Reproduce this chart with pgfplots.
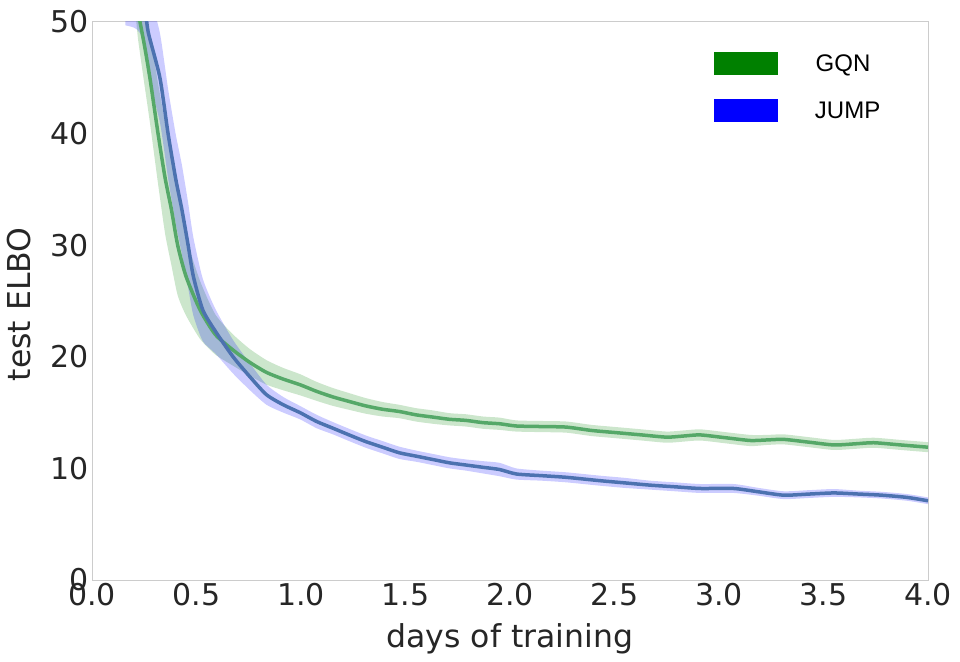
\documentclass[border=0pt]{standalone}
\usepackage{fontspec}
\setmainfont{DejaVu Sans}
\newfontfamily\legendfont{Liberation Sans}
\usepackage{pgfplots}
\pgfplotsset{compat=1.18}
\usepackage{pgfplotstable}
\usepgfplotslibrary{fillbetween}
\definecolor{gline}{RGB}{85,168,104}
\definecolor{bline}{RGB}{76,114,176}
\definecolor{gfill}{RGB}{0,128,0}
\definecolor{bfill}{RGB}{0,0,255}
\definecolor{txt}{RGB}{38,38,38}
\definecolor{frame}{RGB}{204,204,204}
\pgfplotstableread{
x y e
0.21 52.5 2
0.22 51 2.5
0.25 48 3.5
0.277 45 4
0.316 40 4.5
0.35 36 5
0.38 33.2 5
0.41 30 4.5
0.45 27.2 3.5
0.517 24.2 2.6
0.59 22 1.8
0.675 20.6 1.4
0.755 19.5 1.2
0.835 18.6 1.1
0.915 18.0 1.0
0.995 17.5 0.95
1.075 16.9 0.85
1.153 16.4 0.8
1.23 16.0 0.75
1.31 15.6 0.7
1.39 15.3 0.65
1.47 15.1 0.6
1.55 14.8 0.6
1.63 14.6 0.6
1.71 14.4 0.55
1.79 14.3 0.55
1.87 14.1 0.55
1.95 14.0 0.55
2.03 13.8 0.5
2.15 13.75 0.5
2.27 13.7 0.5
2.39 13.4 0.5
2.51 13.2 0.5
2.63 13.0 0.5
2.75 12.8 0.5
2.83 12.9 0.5
2.91 13.0 0.5
3.03 12.75 0.5
3.15 12.5 0.5
3.23 12.55 0.45
3.31 12.6 0.45
3.43 12.35 0.45
3.55 12.1 0.45
3.65 12.2 0.45
3.74 12.3 0.45
3.87 12.1 0.45
4.00 11.9 0.45
}\gqn
\pgfplotstableread{
x y e
0.16 50.4 0.7
0.20 51.5 2
0.23 53 4
0.255 51 4
0.27 49 4
0.325 45 4
0.364 40 4
0.40 36 4
0.43 33.2 4
0.46 30 3.8
0.485 27.2 3.5
0.53 24.2 2.8
0.59 22.3 2
0.675 20 1.5
0.756 18.2 1.2
0.835 16.6 0.9
0.915 15.7 0.7
0.995 15 0.6
1.075 14.2 0.6
1.153 13.6 0.55
1.23 13 0.55
1.31 12.4 0.55
1.39 11.9 0.55
1.47 11.4 0.55
1.55 11.1 0.5
1.63 10.8 0.5
1.71 10.5 0.5
1.79 10.3 0.5
1.87 10.1 0.55
1.95 9.9 0.6
2.03 9.5 0.5
2.15 9.35 0.45
2.27 9.2 0.45
2.43 8.9 0.45
2.55 8.7 0.45
2.67 8.5 0.4
2.79 8.35 0.4
2.91 8.2 0.4
3.07 8.2 0.4
3.19 7.9 0.35
3.31 7.6 0.35
3.43 7.7 0.35
3.55 7.8 0.35
3.67 7.7 0.3
3.78 7.6 0.3
3.90 7.4 0.3
4.00 7.1 0.3
}\jump
\begin{document}
\begin{tikzpicture}
\begin{axis}[
  at={(0,0)}, anchor=south west,
  scale only axis, width=836pt, height=558pt,
  xmin=0, xmax=4, ymin=0, ymax=50,
  xtick={0,0.5,1,1.5,2,2.5,3,3.5,4},
  ytick={0,10,20,30,40,50},
  major tick length=0pt,
  axis line style={draw=frame, line width=1pt},
  /pgf/number format/assume math mode=true,
  ticklabel style={font=\fontsize{30}{36}\selectfont, text=txt},
  xticklabel style={/pgf/number format/.cd, fixed, fixed zerofill, precision=1},
  xlabel={days of training},
  ylabel={test ELBO},
  xlabel style={at={(axis description cs:0.5,-0.07706)}, anchor=north, inner sep=0pt, font=\fontsize{31.5}{36}\selectfont, text=txt},
  ylabel style={at={(axis description cs:-0.10167,0.494)}, anchor=north, inner sep=0pt, font=\fontsize{31.5}{36}\selectfont, text=txt},
  legend image code/.code={\fill[#1] (0pt,-11.5pt) rectangle (64pt,11.5pt);},
  legend style={draw=none, fill=none, inner sep=0pt, outer sep=0pt,
    at={(axis description cs:0.7440,0.94624)}, anchor=north west,
    row sep=24pt, column sep=33pt,
    cells={anchor=center},
    nodes={font=\legendfont\fontsize{24}{28}\selectfont, text width=56pt, align=center, text height=17pt, text depth=0pt, inner xsep=4pt, inner ysep=0pt, text=black}},
]
\addplot[draw=none, smooth, tension=0.4, name path=gu, forget plot] table[x=x, y expr=\thisrow{y}+\thisrow{e}]{\gqn};
\addplot[draw=none, smooth, tension=0.4, name path=gl, forget plot] table[x=x, y expr=\thisrow{y}-\thisrow{e}]{\gqn};
\addplot[fill=gfill, fill opacity=0.2, draw=none, forget plot] fill between[of=gu and gl];
\addplot[gline, line width=3.5pt, line join=round, smooth, tension=0.4, forget plot] table[x=x, y=y]{\gqn};
\addplot[draw=none, smooth, tension=0.4, name path=bu, forget plot] table[x=x, y expr=\thisrow{y}+\thisrow{e}]{\jump};
\addplot[draw=none, smooth, tension=0.4, name path=bl, forget plot] table[x=x, y expr=\thisrow{y}-\thisrow{e}]{\jump};
\addplot[fill=bfill, fill opacity=0.2, draw=none, forget plot] fill between[of=bu and bl];
\addplot[bline, line width=3.5pt, line join=round, smooth, tension=0.4, forget plot] table[x=x, y=y]{\jump};
\addlegendimage{fill=gfill, draw=none}
\addlegendentry{GQN}
\addlegendimage{fill=bfill, draw=none}
\addlegendentry{JUMP}
\end{axis}
\pgfresetboundingbox
\path (-92pt,-81pt) rectangle (868pt,580pt);
\end{tikzpicture}
\end{document}
